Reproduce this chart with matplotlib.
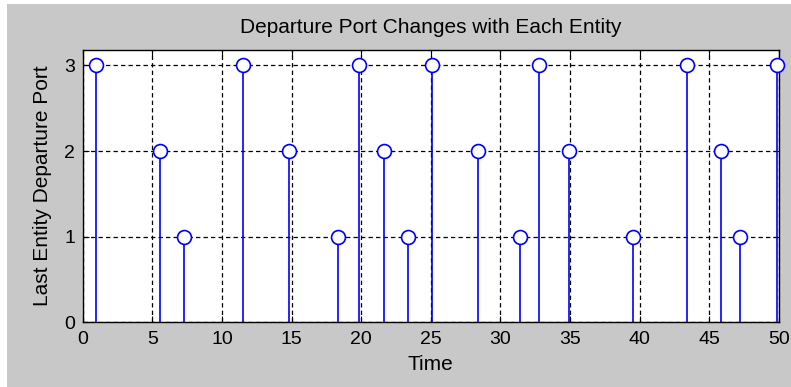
import matplotlib
matplotlib.use("Agg")
import matplotlib.pyplot as plt
from matplotlib.patches import Rectangle

times = [0.96, 5.54, 7.27, 11.5, 14.81, 18.32, 19.84, 21.63, 23.39, 25.1,
         28.41, 31.38, 32.78, 34.89, 39.55, 43.38, 45.84, 47.2, 49.86]
ports = [3, 2, 1, 3, 2, 1, 3, 2, 1, 3, 2, 1, 3, 2, 1, 3, 2, 1, 3]
xticks = [0, 5, 10, 15, 20, 25, 30, 35, 40, 45, 50]
yticks = [0, 1, 2, 3]
title = "Departure Port Changes with Each Entity"
xlabel = "Time"
ylabel = "Last Entity Departure Port"

plt.rcParams['font.family'] = ['Liberation Sans', 'DejaVu Sans']

fig = plt.figure(figsize=(7.91, 3.87), dpi=100, facecolor='white')
fig.patches.append(Rectangle((7/791, 0), 1 - 7/791, 1 - 4/387,
                             transform=fig.transFigure, facecolor='#c8c8c8',
                             edgecolor='none', zorder=-10))
ax = fig.add_axes([82.7/791, 1 - 322.3/387, (779 - 82.7)/791, (322.3 - 50)/387])
ax.set_facecolor('white')

blue = '#0000ff'
ax.vlines(times, 0, ports, colors=blue, linewidth=1.2, zorder=3)
ax.plot(times, ports, 'o', markersize=10, markerfacecolor='white',
        markeredgecolor=blue, markeredgewidth=1.2, linestyle='none', zorder=4,
        clip_on=False)

ax.set_xlim(0, 50)
ax.set_ylim(0, 3.18)
ax.set_xticks(xticks)
ax.set_yticks(yticks)
ax.grid(True, color='black', linestyle=(0, (3.5, 2.5)), linewidth=0.9)
ax.set_axisbelow(True)
ax.tick_params(direction='in', length=4, labelsize=14, colors='black', top=True, right=True)
ax.tick_params(axis='x', pad=6)
ax.tick_params(axis='y', pad=5.5)
for s in ax.spines.values():
    s.set_color('black')
    s.set_linewidth(1.0)

ax.set_title(title, fontsize=15, pad=12)
ax.set_xlabel(xlabel, fontsize=15, labelpad=5)
ax.set_ylabel(ylabel, fontsize=15, labelpad=9)

fig.savefig("out.png", dpi=100, facecolor=fig.get_facecolor())
